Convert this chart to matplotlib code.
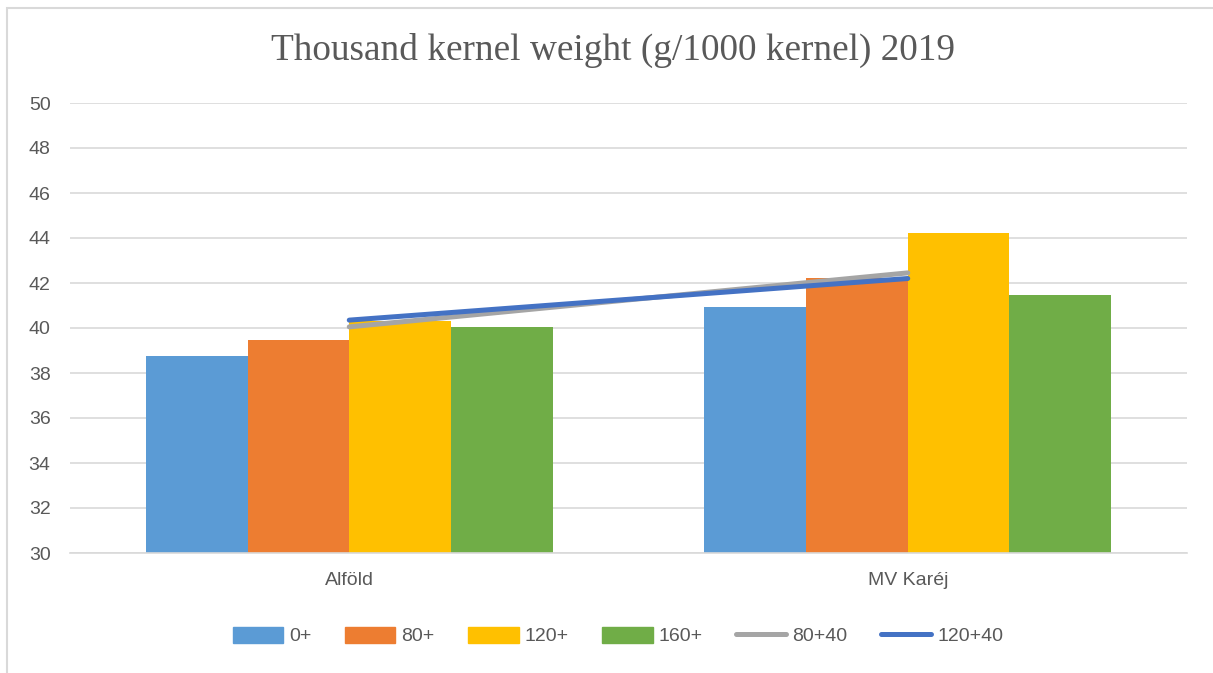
import numpy as np
import matplotlib.pyplot as plt
from matplotlib.patches import Rectangle
from matplotlib.lines import Line2D

categories = ['Alföld', 'MV Karéj']
bar_series = ['0+', '80+', '120+', '160+']
bar_values = [
    [38.75, 40.95],   # 0+
    [39.45, 42.2],    # 80+
    [40.3, 44.2],     # 120+
    [40.05, 41.45],   # 160+
]
line_series = ['80+40', '120+40']
line_values = [
    [40.05, 42.45],   # 80+40
    [40.35, 42.2],    # 120+40
]
yticks = list(range(30, 52, 2))

bar_colors = ['#5B9BD5', '#ED7D31', '#FFC000', '#70AD47']
line_colors = ['#A5A5A5', '#4472C4']
txt_color = '#595959'
sans = 'Liberation Sans'

fig = plt.figure(figsize=(12.13, 6.73), dpi=100)
W, H = 1213, 673
ax = fig.add_axes([70 / W, 1 - 553 / H, (1187 - 70) / W, (553 - 103) / H])

# light border of the chart area
fig.patches.append(Rectangle((7 / W, -0.1), 1.2, 1 - 8 / H + 0.1, transform=fig.transFigure,
                             fill=False, edgecolor='#D9D9D9', linewidth=1.5))

x = np.arange(len(categories))
bw = 0.182
for i, (name, vals) in enumerate(zip(bar_series, bar_values)):
    off = (i - 1.5) * bw
    ax.bar(x + off, np.array(vals) - 30, bw, bottom=30, color=bar_colors[i], label=name, zorder=2)

for i, (name, vals) in enumerate(zip(line_series, line_values)):
    ax.plot(x, vals, color=line_colors[i], lw=3.6, solid_capstyle='round', label=name, zorder=3)

ax.set_xlim(-0.5, 1.5)
ax.set_ylim(30, 50)
ax.set_yticks(yticks)
ax.set_xticks(x)
ax.set_xticklabels(categories)
ax.grid(axis='y', color='#D9D9D9', lw=1.2, zorder=0)
ax.set_axisbelow(True)
for s in ['top', 'right', 'left']:
    ax.spines[s].set_visible(False)
ax.spines['bottom'].set_color('#D9D9D9')
ax.spines['bottom'].set_linewidth(1.2)
ax.tick_params(axis='both', length=0, labelsize=14, labelcolor=txt_color)
ax.tick_params(axis='y', pad=14)
ax.tick_params(axis='x', pad=14)
for lab in ax.get_xticklabels() + ax.get_yticklabels():
    lab.set_fontfamily(sans)

fig.text(613 / W, 1 - 50 / H, 'Thousand kernel weight (g/1000 kernel) 2019',
         ha='center', va='center', fontsize=26.8, color=txt_color, family='Liberation Serif')

handles = [Rectangle((0, 0), 1, 1, color=c) for c in bar_colors]
handles += [Line2D([0], [0], color=c, lw=3.6, solid_capstyle='round') for c in line_colors]
labels = bar_series + line_series
fig.legend(handles, labels, loc='center', bbox_to_anchor=(618 / W, 1 - 636 / H), ncol=6,
           frameon=False, prop={'family': sans, 'size': 14}, labelcolor=txt_color,
           handlelength=2.6, handleheight=0.9, handletextpad=0.3, columnspacing=1.72)

fig.savefig('out.png', dpi=100, facecolor='white')
